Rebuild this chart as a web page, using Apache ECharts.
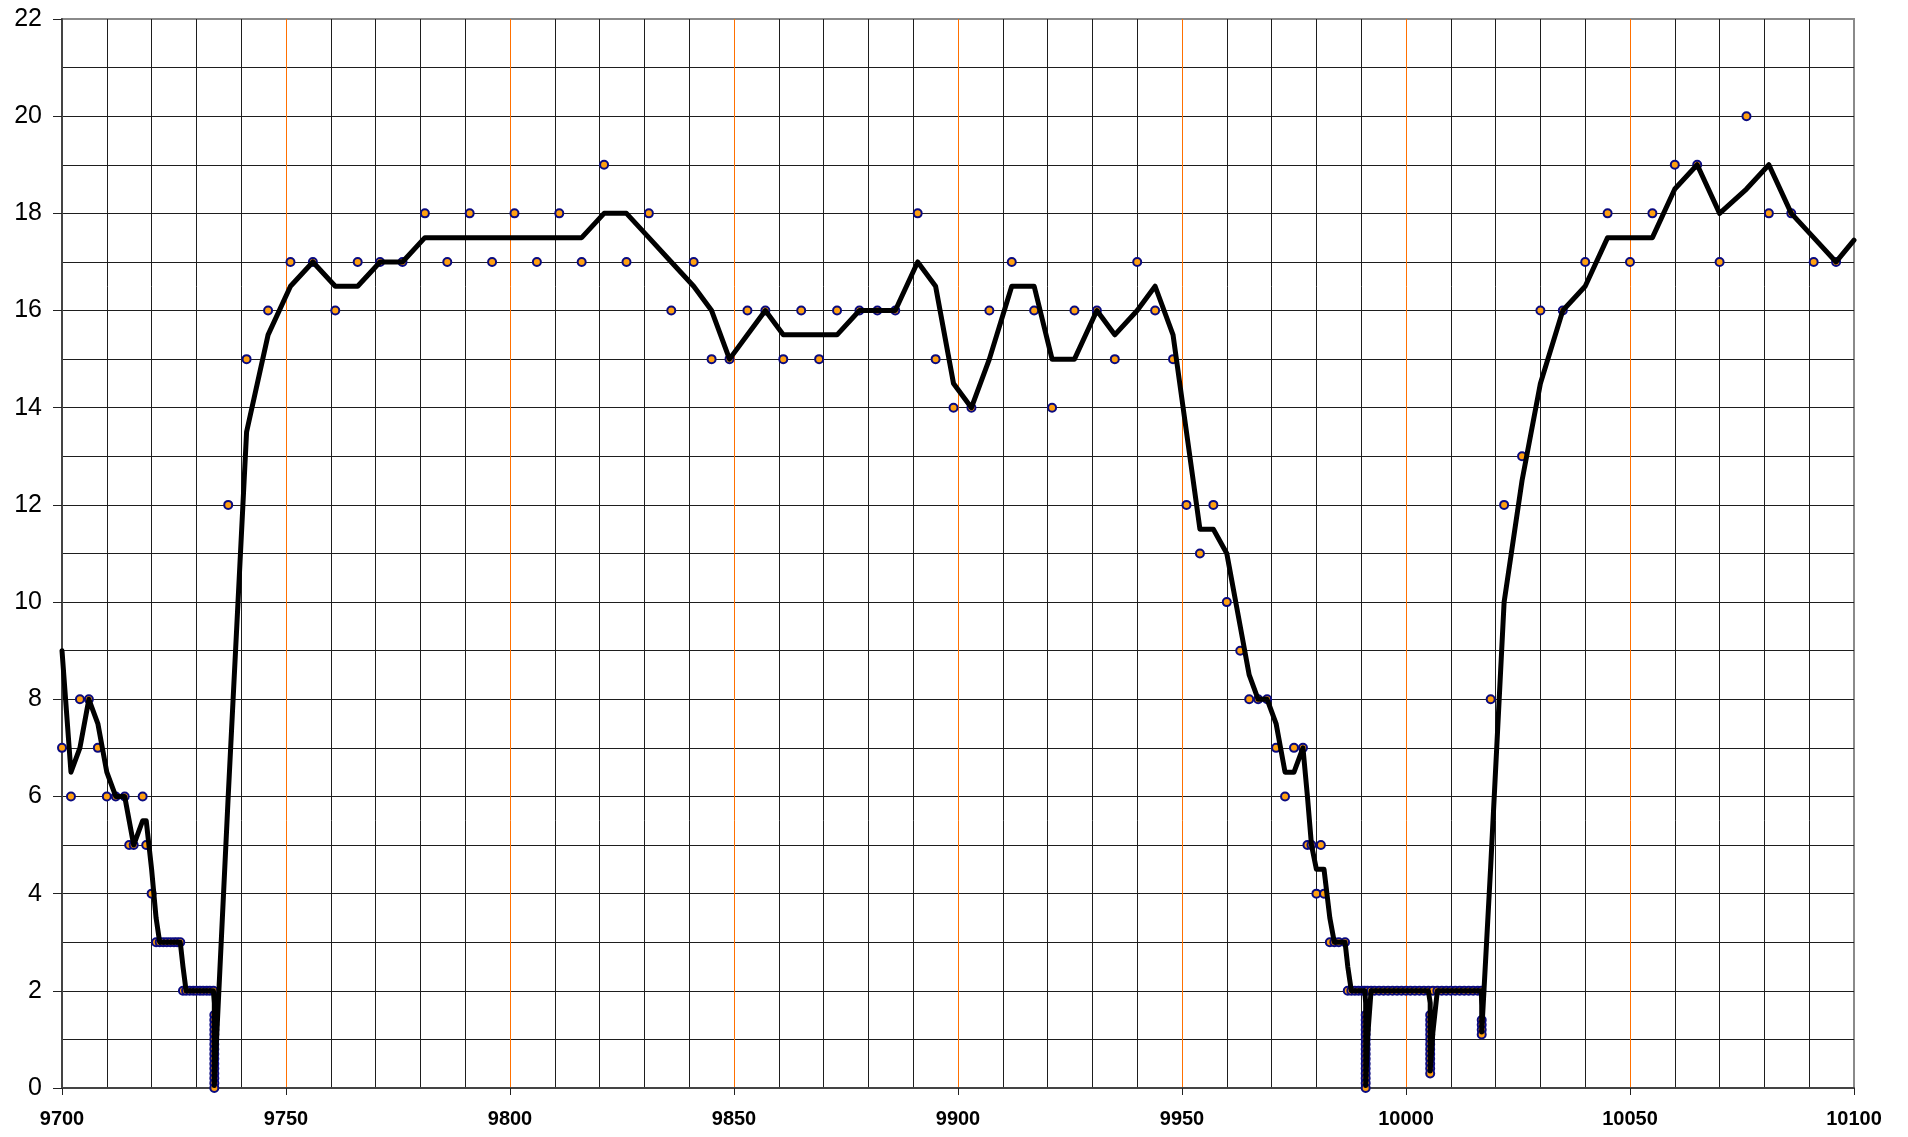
<!DOCTYPE html>
<html>
<head>
<meta charset="utf-8">
<script src="https://cdn.jsdelivr.net/npm/echarts@6/dist/echarts.min.js"></script>
<style>
html,body{margin:0;padding:0;background:#fff;}
#chart{width:1908px;height:1137px;}
</style>
</head>
<body>
<div id="chart"></div>
<script>
// ---- axis settings (tick labels) ----
const xMin = 9700, xMax = 10100, xStep = 50;
const yMin = 0, yMax = 22, yStep = 2;

// ---- measured points (x, y) ----
const pointsStart = [
  [9700,7],[9702,6],[9704,8],[9706,8],[9708,7],[9710,6],[9712,6],[9714,6],[9715,5],[9716,5],
  [9718,6],[9718.8,5],[9720,4],[9721,3],[9721.8,3],[9722.6,3],[9723.4,3],[9724.2,3],[9725,3],
  [9725.7,3],[9726.4,3],[9727,2],[9727.7,2],[9728.5,2],[9729.3,2],[9730,2],[9730.8,2],[9731.5,2],
  [9732.3,2],[9733,2],[9733.8,2],
  [9734,1.5],[9734,1.4],[9734,1.3],[9734,1.2],[9734,1.1],[9734,1.0],[9734,0.9],[9734,0.8],
  [9734,0.7],[9734,0.6],[9734,0.5],[9734,0.4],[9734,0.3],[9734,0.2],[9734,0.1],[9734,0]
];
const pointsPlateau = [
  [9737.1,12],[9741.2,15],[9746,16],[9751,17],[9756,17],[9761,16],[9766,17],[9771,17],[9776,17],
  [9781,18],[9786,17],[9791,18],[9796,17],[9801,18],[9806,17],[9811,18],[9816,17],[9821,19],
  [9826,17],[9831,18],[9836,16],[9841,17],[9845,15],[9849,15],[9853,16],[9857,16],[9861,15],
  [9865,16],[9869,15],[9873,16],[9878,16],[9882,16],[9886,16],[9891,18],[9895,15],[9899,14],
  [9903,14],[9907,16],[9912,17],[9917,16],[9921,14],[9926,16],[9931,16],[9935,15],[9940,17],
  [9944,16],[9948,15]
];
const pointsDescent = [
  [9951,12],[9954,11],[9957,12],[9960,10],[9963,9],[9965,8],[9967,8],[9969,8],[9971,7],[9973,6],
  [9975,7],[9977,7],[9978,5],[9978.9,5],[9980,4],[9981,5],[9981.7,4],[9983,3],[9984,3],[9985,3],
  [9986.4,3],[9987,2],[9987.8,2],[9988.6,2],[9989.4,2],[9990.2,2],[9990.8,2]
];
const pointsValley = [
  [9991,1.5],[9991,1.4],[9991,1.3],[9991,1.2],[9991,1.1],[9991,1.0],[9991,0.9],[9991,0.8],
  [9991,0.7],[9991,0.6],[9991,0.5],[9991,0.4],[9991,0.3],[9991,0.2],[9991,0.1],[9991,0],
  [9991.4,2],[9992.2,2],[9993,2],[9994,2],[9995,2],[9996,2],[9997,2],[9998,2],[9999,2],[10000,2],
  [10001,2],[10002,2],[10003,2],[10004,2],[10005,2],
  [10005.4,1.5],[10005.4,1.4],[10005.4,1.3],[10005.4,1.2],[10005.4,1.1],[10005.4,1.0],
  [10005.4,0.9],[10005.4,0.8],[10005.4,0.7],[10005.4,0.6],[10005.4,0.5],[10005.4,0.4],[10005.4,0.3],
  [10006,2],[10007,2],[10008,2],[10009,2],[10010,2],[10011,2],[10012,2],[10013,2],[10014,2],
  [10015,2],[10016,2],[10016.8,2],
  [10016.9,1.4],[10016.9,1.3],[10016.9,1.2],[10016.9,1.1]
];
const pointsEnd = [
  [10018.9,8],[10021.9,12],[10025.9,13],[10030,16],[10035,16],[10040,17],[10045,18],[10050,17],
  [10055,18],[10060,19],[10065,19],[10070,17],[10076,20],[10081,18],[10086,18],[10091,17],[10096,17]
];

// ---- black trend line vertices (x, y) ----
const trendStart = [
  [9700,9],[9702,6.5],[9704,7],[9706,8],[9708,7.5],[9710,6.5],[9712,6],[9714,6],[9715,5.5],
  [9716,5],[9718,5.5],[9718.8,5.5],[9720,4.5],[9721,3.5],[9721.8,3],[9726.4,3],[9727,2.5],
  [9727.7,2],[9733.8,2],[9734,1.75],[9734,0.05],[9737.1,6]
];
const trendPlateau = [
  [9741.2,13.5],[9746,15.5],[9751,16.5],[9756,17],[9761,16.5],[9766,16.5],[9771,17],[9776,17],
  [9781,17.5],[9816,17.5],[9821,18],[9826,18],[9831,17.5],[9836,17],[9841,16.5],[9845,16],
  [9849,15],[9853,15.5],[9857,16],[9861,15.5],[9873,15.5],[9878,16],[9886,16],[9891,17],
  [9895,16.5],[9899,14.5],[9903,14],[9907,15],[9912,16.5],[9917,16.5],[9921,15],[9926,15],
  [9931,16],[9935,15.5],[9940,16],[9944,16.5],[9948,15.5]
];
const trendDescent = [
  [9951,13.5],[9954,11.5],[9957,11.5],[9960,11],[9963,9.5],[9965,8.5],[9967,8],[9969,8],
  [9971,7.5],[9973,6.5],[9975,6.5],[9977,7],[9978,6],[9978.9,5],[9980,4.5],[9981.7,4.5],
  [9983,3.5],[9984,3],[9986.4,3],[9987,2.5],[9987.8,2],[9990.8,2]
];
const trendValley = [
  [9991,1.75],[9991,0.05],[9991.4,1.0],[9992.2,2],[10005,2],[10005.4,1.75],[10005.4,0.35],
  [10006,1.15],[10007,2],[10016.8,2],[10016.9,1.7],[10016.9,1.15]
];
const trendEnd = [
  [10018.9,4.55],[10021.9,10],[10025.9,12.5],[10030,14.5],[10035,16],[10040,16.5],[10045,17.5],
  [10055,17.5],[10060,18.5],[10065,19],[10070,18],[10076,18.5],[10081,19],[10086,18],
  [10091,17.5],[10096,17],[10100,17.45]
];

const scatterData = [].concat(pointsStart, pointsPlateau, pointsDescent, pointsValley, pointsEnd);
const trendData = [].concat(trendStart, trendPlateau, trendDescent, trendValley, trendEnd);

const chart = echarts.init(document.getElementById('chart'), null, {renderer: 'canvas'});
const FONT = '"Liberation Sans", Arial, sans-serif';
chart.setOption({
  animation: false,
  backgroundColor: '#ffffff',
  grid: {
    left: 62, right: 54, top: 19, bottom: 49,
    show: true, borderColor: '#8a8a8a', borderWidth: 2, backgroundColor: 'transparent'
  },
  xAxis: {
    type: 'value', min: xMin, max: xMax, interval: xStep,
    axisLine: {show: true, onZero: false, lineStyle: {color: '#444', width: 2}},
    axisTick: {show: true, length: 7, lineStyle: {color: '#222', width: 1}},
    axisLabel: {fontFamily: FONT, fontSize: 20, fontWeight: 'bold', color: '#000', margin: 21,
      formatter: v => String(v)},
    splitLine: {show: true, showMinLine: false, showMaxLine: false,
      lineStyle: {color: '#FF7000', width: 1}},
    minorTick: {show: false, splitNumber: 5},
    minorSplitLine: {show: true, lineStyle: {color: '#1e1e1e', width: 1}}
  },
  yAxis: {
    type: 'value', min: yMin, max: yMax, interval: yStep,
    axisLine: {show: true, onZero: false, lineStyle: {color: '#444', width: 2}},
    axisTick: {show: true, length: 9, lineStyle: {color: '#222', width: 1}},
    axisLabel: {fontFamily: FONT, fontSize: 25, color: '#000', margin: 20},
    splitLine: {show: true, showMinLine: false, showMaxLine: false,
      lineStyle: {color: '#1e1e1e', width: 1}},
    minorTick: {show: false, splitNumber: 2},
    minorSplitLine: {show: true, lineStyle: {color: '#1e1e1e', width: 1}}
  },
  series: [
    {
      type: 'scatter',
      data: scatterData,
      symbol: 'circle',
      symbolSize: 8,
      itemStyle: {color: '#FFA010', borderColor: '#0A0A80', borderWidth: 2, opacity: 1},
      z: 2,
      silent: true
    },
    {
      type: 'line',
      data: trendData,
      showSymbol: false,
      symbol: 'none',
      lineStyle: {color: '#000000', width: 5, join: 'round', cap: 'round'},
      z: 3,
      silent: true
    }
  ]
});
</script>
</body>
</html>
